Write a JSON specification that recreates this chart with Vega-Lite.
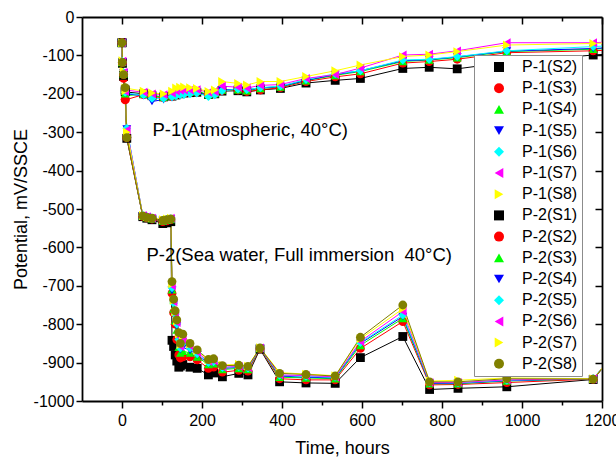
{
  "$schema": "https://vega.github.io/schema/vega-lite/v6.json",
  "width": 520,
  "height": 384,
  "autosize": "none",
  "padding": {"left": 82, "top": 17, "right": 14, "bottom": 57},
  "config": {
    "font": "Liberation Sans",
    "view": {"stroke": null},
    "axis": {
      "grid": false,
      "domainColor": "black",
      "domainWidth": 1.8,
      "tickColor": "black",
      "tickWidth": 1.5,
      "labelColor": "black",
      "labelFont": "Liberation Sans",
      "labelFontSize": 16,
      "titleColor": "black",
      "titleFont": "Liberation Sans",
      "titleFontSize": 18,
      "titleFontWeight": "normal"
    }
  },
  "datasets": {
    "curves": [
      {"series":"P-1(S2)","hours":0,"mV":-67},{"series":"P-1(S2)","hours":1,"mV":-120},{"series":"P-1(S2)","hours":4,"mV":-155},{"series":"P-1(S2)","hours":8,"mV":-195},{"series":"P-1(S2)","hours":54,"mV":-200},{"series":"P-1(S2)","hours":75,"mV":-205},{"series":"P-1(S2)","hours":104,"mV":-208},{"series":"P-1(S2)","hours":125,"mV":-206},{"series":"P-1(S2)","hours":135,"mV":-203},{"series":"P-1(S2)","hours":145,"mV":-200},{"series":"P-1(S2)","hours":155,"mV":-198},{"series":"P-1(S2)","hours":170,"mV":-197},{"series":"P-1(S2)","hours":187,"mV":-196},{"series":"P-1(S2)","hours":216,"mV":-202},{"series":"P-1(S2)","hours":232,"mV":-200},{"series":"P-1(S2)","hours":250,"mV":-193},{"series":"P-1(S2)","hours":290,"mV":-192},{"series":"P-1(S2)","hours":312,"mV":-195},{"series":"P-1(S2)","hours":346,"mV":-190},{"series":"P-1(S2)","hours":396,"mV":-186},{"series":"P-1(S2)","hours":460,"mV":-172},{"series":"P-1(S2)","hours":533,"mV":-165},{"series":"P-1(S2)","hours":596,"mV":-160},{"series":"P-1(S2)","hours":702,"mV":-134},{"series":"P-1(S2)","hours":768,"mV":-131},{"series":"P-1(S2)","hours":838,"mV":-135},{"series":"P-1(S2)","hours":962,"mV":-118},{"series":"P-1(S2)","hours":1178,"mV":-99},{"series":"P-1(S2)","hours":1240,"mV":-95},
      {"series":"P-1(S3)","hours":0,"mV":-67},{"series":"P-1(S3)","hours":1,"mV":-118},{"series":"P-1(S3)","hours":4,"mV":-160},{"series":"P-1(S3)","hours":8,"mV":-216},{"series":"P-1(S3)","hours":54,"mV":-202},{"series":"P-1(S3)","hours":75,"mV":-208},{"series":"P-1(S3)","hours":104,"mV":-210},{"series":"P-1(S3)","hours":125,"mV":-207},{"series":"P-1(S3)","hours":135,"mV":-202},{"series":"P-1(S3)","hours":145,"mV":-200},{"series":"P-1(S3)","hours":155,"mV":-198},{"series":"P-1(S3)","hours":170,"mV":-197},{"series":"P-1(S3)","hours":187,"mV":-195},{"series":"P-1(S3)","hours":216,"mV":-203},{"series":"P-1(S3)","hours":232,"mV":-200},{"series":"P-1(S3)","hours":250,"mV":-192},{"series":"P-1(S3)","hours":290,"mV":-190},{"series":"P-1(S3)","hours":312,"mV":-194},{"series":"P-1(S3)","hours":346,"mV":-190},{"series":"P-1(S3)","hours":396,"mV":-184},{"series":"P-1(S3)","hours":460,"mV":-168},{"series":"P-1(S3)","hours":533,"mV":-156},{"series":"P-1(S3)","hours":596,"mV":-148},{"series":"P-1(S3)","hours":702,"mV":-120},{"series":"P-1(S3)","hours":768,"mV":-116},{"series":"P-1(S3)","hours":838,"mV":-110},{"series":"P-1(S3)","hours":962,"mV":-93},{"series":"P-1(S3)","hours":1178,"mV":-88},{"series":"P-1(S3)","hours":1240,"mV":-85},
      {"series":"P-1(S4)","hours":0,"mV":-67},{"series":"P-1(S4)","hours":1,"mV":-117},{"series":"P-1(S4)","hours":4,"mV":-152},{"series":"P-1(S4)","hours":8,"mV":-205},{"series":"P-1(S4)","hours":54,"mV":-201},{"series":"P-1(S4)","hours":75,"mV":-206},{"series":"P-1(S4)","hours":104,"mV":-208},{"series":"P-1(S4)","hours":125,"mV":-205},{"series":"P-1(S4)","hours":135,"mV":-200},{"series":"P-1(S4)","hours":145,"mV":-198},{"series":"P-1(S4)","hours":155,"mV":-196},{"series":"P-1(S4)","hours":170,"mV":-195},{"series":"P-1(S4)","hours":187,"mV":-193},{"series":"P-1(S4)","hours":216,"mV":-202},{"series":"P-1(S4)","hours":232,"mV":-199},{"series":"P-1(S4)","hours":250,"mV":-190},{"series":"P-1(S4)","hours":290,"mV":-189},{"series":"P-1(S4)","hours":312,"mV":-192},{"series":"P-1(S4)","hours":346,"mV":-186},{"series":"P-1(S4)","hours":396,"mV":-182},{"series":"P-1(S4)","hours":460,"mV":-166},{"series":"P-1(S4)","hours":533,"mV":-152},{"series":"P-1(S4)","hours":596,"mV":-142},{"series":"P-1(S4)","hours":702,"mV":-116},{"series":"P-1(S4)","hours":768,"mV":-112},{"series":"P-1(S4)","hours":838,"mV":-106},{"series":"P-1(S4)","hours":962,"mV":-90},{"series":"P-1(S4)","hours":1178,"mV":-84},{"series":"P-1(S4)","hours":1240,"mV":-80},
      {"series":"P-1(S5)","hours":0,"mV":-67},{"series":"P-1(S5)","hours":1,"mV":-118},{"series":"P-1(S5)","hours":4,"mV":-150},{"series":"P-1(S5)","hours":8,"mV":-200},{"series":"P-1(S5)","hours":54,"mV":-205},{"series":"P-1(S5)","hours":75,"mV":-220},{"series":"P-1(S5)","hours":104,"mV":-215},{"series":"P-1(S5)","hours":125,"mV":-210},{"series":"P-1(S5)","hours":135,"mV":-203},{"series":"P-1(S5)","hours":145,"mV":-200},{"series":"P-1(S5)","hours":155,"mV":-198},{"series":"P-1(S5)","hours":170,"mV":-197},{"series":"P-1(S5)","hours":187,"mV":-196},{"series":"P-1(S5)","hours":216,"mV":-205},{"series":"P-1(S5)","hours":232,"mV":-201},{"series":"P-1(S5)","hours":250,"mV":-190},{"series":"P-1(S5)","hours":290,"mV":-188},{"series":"P-1(S5)","hours":312,"mV":-190},{"series":"P-1(S5)","hours":346,"mV":-185},{"series":"P-1(S5)","hours":396,"mV":-181},{"series":"P-1(S5)","hours":460,"mV":-165},{"series":"P-1(S5)","hours":533,"mV":-150},{"series":"P-1(S5)","hours":596,"mV":-140},{"series":"P-1(S5)","hours":702,"mV":-114},{"series":"P-1(S5)","hours":768,"mV":-111},{"series":"P-1(S5)","hours":838,"mV":-104},{"series":"P-1(S5)","hours":962,"mV":-89},{"series":"P-1(S5)","hours":1178,"mV":-82},{"series":"P-1(S5)","hours":1240,"mV":-79},
      {"series":"P-1(S6)","hours":0,"mV":-67},{"series":"P-1(S6)","hours":1,"mV":-116},{"series":"P-1(S6)","hours":4,"mV":-148},{"series":"P-1(S6)","hours":8,"mV":-198},{"series":"P-1(S6)","hours":54,"mV":-203},{"series":"P-1(S6)","hours":75,"mV":-212},{"series":"P-1(S6)","hours":104,"mV":-212},{"series":"P-1(S6)","hours":125,"mV":-208},{"series":"P-1(S6)","hours":135,"mV":-205},{"series":"P-1(S6)","hours":145,"mV":-203},{"series":"P-1(S6)","hours":155,"mV":-202},{"series":"P-1(S6)","hours":170,"mV":-200},{"series":"P-1(S6)","hours":187,"mV":-198},{"series":"P-1(S6)","hours":216,"mV":-207},{"series":"P-1(S6)","hours":232,"mV":-203},{"series":"P-1(S6)","hours":250,"mV":-192},{"series":"P-1(S6)","hours":290,"mV":-188},{"series":"P-1(S6)","hours":312,"mV":-189},{"series":"P-1(S6)","hours":346,"mV":-184},{"series":"P-1(S6)","hours":396,"mV":-180},{"series":"P-1(S6)","hours":460,"mV":-163},{"series":"P-1(S6)","hours":533,"mV":-148},{"series":"P-1(S6)","hours":596,"mV":-140},{"series":"P-1(S6)","hours":702,"mV":-112},{"series":"P-1(S6)","hours":768,"mV":-110},{"series":"P-1(S6)","hours":838,"mV":-103},{"series":"P-1(S6)","hours":962,"mV":-88},{"series":"P-1(S6)","hours":1178,"mV":-77},{"series":"P-1(S6)","hours":1240,"mV":-74},
      {"series":"P-1(S7)","hours":0,"mV":-67},{"series":"P-1(S7)","hours":1,"mV":-115},{"series":"P-1(S7)","hours":4,"mV":-145},{"series":"P-1(S7)","hours":8,"mV":-190},{"series":"P-1(S7)","hours":54,"mV":-196},{"series":"P-1(S7)","hours":75,"mV":-200},{"series":"P-1(S7)","hours":104,"mV":-202},{"series":"P-1(S7)","hours":125,"mV":-198},{"series":"P-1(S7)","hours":135,"mV":-193},{"series":"P-1(S7)","hours":145,"mV":-191},{"series":"P-1(S7)","hours":155,"mV":-190},{"series":"P-1(S7)","hours":170,"mV":-190},{"series":"P-1(S7)","hours":187,"mV":-189},{"series":"P-1(S7)","hours":216,"mV":-196},{"series":"P-1(S7)","hours":232,"mV":-194},{"series":"P-1(S7)","hours":250,"mV":-180},{"series":"P-1(S7)","hours":290,"mV":-183},{"series":"P-1(S7)","hours":312,"mV":-185},{"series":"P-1(S7)","hours":346,"mV":-178},{"series":"P-1(S7)","hours":396,"mV":-176},{"series":"P-1(S7)","hours":460,"mV":-160},{"series":"P-1(S7)","hours":533,"mV":-150},{"series":"P-1(S7)","hours":596,"mV":-133},{"series":"P-1(S7)","hours":702,"mV":-99},{"series":"P-1(S7)","hours":768,"mV":-97},{"series":"P-1(S7)","hours":838,"mV":-88},{"series":"P-1(S7)","hours":962,"mV":-67},{"series":"P-1(S7)","hours":1178,"mV":-67},{"series":"P-1(S7)","hours":1240,"mV":-64},
      {"series":"P-1(S8)","hours":0,"mV":-67},{"series":"P-1(S8)","hours":1,"mV":-114},{"series":"P-1(S8)","hours":4,"mV":-140},{"series":"P-1(S8)","hours":8,"mV":-185},{"series":"P-1(S8)","hours":54,"mV":-193},{"series":"P-1(S8)","hours":75,"mV":-198},{"series":"P-1(S8)","hours":104,"mV":-200},{"series":"P-1(S8)","hours":125,"mV":-193},{"series":"P-1(S8)","hours":135,"mV":-185},{"series":"P-1(S8)","hours":145,"mV":-183},{"series":"P-1(S8)","hours":155,"mV":-182},{"series":"P-1(S8)","hours":170,"mV":-184},{"series":"P-1(S8)","hours":187,"mV":-186},{"series":"P-1(S8)","hours":216,"mV":-194},{"series":"P-1(S8)","hours":232,"mV":-190},{"series":"P-1(S8)","hours":250,"mV":-168},{"series":"P-1(S8)","hours":290,"mV":-173},{"series":"P-1(S8)","hours":312,"mV":-177},{"series":"P-1(S8)","hours":346,"mV":-168},{"series":"P-1(S8)","hours":396,"mV":-168},{"series":"P-1(S8)","hours":460,"mV":-155},{"series":"P-1(S8)","hours":533,"mV":-140},{"series":"P-1(S8)","hours":596,"mV":-125},{"series":"P-1(S8)","hours":702,"mV":-103},{"series":"P-1(S8)","hours":768,"mV":-99},{"series":"P-1(S8)","hours":838,"mV":-90},{"series":"P-1(S8)","hours":962,"mV":-73},{"series":"P-1(S8)","hours":1178,"mV":-69},{"series":"P-1(S8)","hours":1240,"mV":-66},
      {"series":"P-2(S1)","hours":0,"mV":-67},{"series":"P-2(S1)","hours":1,"mV":-120},{"series":"P-2(S1)","hours":4,"mV":-152},{"series":"P-2(S1)","hours":8,"mV":-190},{"series":"P-2(S1)","hours":12,"mV":-316},{"series":"P-2(S1)","hours":52,"mV":-520},{"series":"P-2(S1)","hours":62,"mV":-524},{"series":"P-2(S1)","hours":75,"mV":-528},{"series":"P-2(S1)","hours":102,"mV":-538},{"series":"P-2(S1)","hours":112,"mV":-536},{"series":"P-2(S1)","hours":122,"mV":-533},{"series":"P-2(S1)","hours":125,"mV":-842},{"series":"P-2(S1)","hours":129,"mV":-858},{"series":"P-2(S1)","hours":133,"mV":-880},{"series":"P-2(S1)","hours":137,"mV":-896},{"series":"P-2(S1)","hours":142,"mV":-912},{"series":"P-2(S1)","hours":146,"mV":-909},{"series":"P-2(S1)","hours":152,"mV":-905},{"series":"P-2(S1)","hours":170,"mV":-912},{"series":"P-2(S1)","hours":188,"mV":-915},{"series":"P-2(S1)","hours":216,"mV":-932},{"series":"P-2(S1)","hours":229,"mV":-927},{"series":"P-2(S1)","hours":251,"mV":-937},{"series":"P-2(S1)","hours":292,"mV":-928},{"series":"P-2(S1)","hours":315,"mV":-932},{"series":"P-2(S1)","hours":345,"mV":-865},{"series":"P-2(S1)","hours":394,"mV":-950},{"series":"P-2(S1)","hours":460,"mV":-953},{"series":"P-2(S1)","hours":533,"mV":-954},{"series":"P-2(S1)","hours":596,"mV":-887},{"series":"P-2(S1)","hours":702,"mV":-832},{"series":"P-2(S1)","hours":769,"mV":-970},{"series":"P-2(S1)","hours":840,"mV":-967},{"series":"P-2(S1)","hours":962,"mV":-963},{"series":"P-2(S1)","hours":1178,"mV":-944},{"series":"P-2(S1)","hours":1240,"mV":-866},
      {"series":"P-2(S2)","hours":0,"mV":-67},{"series":"P-2(S2)","hours":1,"mV":-119},{"series":"P-2(S2)","hours":4,"mV":-150},{"series":"P-2(S2)","hours":8,"mV":-214},{"series":"P-2(S2)","hours":12,"mV":-314},{"series":"P-2(S2)","hours":52,"mV":-519},{"series":"P-2(S2)","hours":62,"mV":-523},{"series":"P-2(S2)","hours":75,"mV":-526},{"series":"P-2(S2)","hours":102,"mV":-533},{"series":"P-2(S2)","hours":112,"mV":-531},{"series":"P-2(S2)","hours":122,"mV":-528},{"series":"P-2(S2)","hours":125,"mV":-720},{"series":"P-2(S2)","hours":129,"mV":-770},{"series":"P-2(S2)","hours":133,"mV":-800},{"series":"P-2(S2)","hours":137,"mV":-840},{"series":"P-2(S2)","hours":142,"mV":-880},{"series":"P-2(S2)","hours":146,"mV":-888},{"series":"P-2(S2)","hours":152,"mV":-885},{"series":"P-2(S2)","hours":170,"mV":-885},{"series":"P-2(S2)","hours":188,"mV":-893},{"series":"P-2(S2)","hours":216,"mV":-915},{"series":"P-2(S2)","hours":229,"mV":-912},{"series":"P-2(S2)","hours":251,"mV":-925},{"series":"P-2(S2)","hours":292,"mV":-920},{"series":"P-2(S2)","hours":315,"mV":-922},{"series":"P-2(S2)","hours":345,"mV":-864},{"series":"P-2(S2)","hours":394,"mV":-942},{"series":"P-2(S2)","hours":460,"mV":-945},{"series":"P-2(S2)","hours":533,"mV":-945},{"series":"P-2(S2)","hours":596,"mV":-863},{"series":"P-2(S2)","hours":702,"mV":-793},{"series":"P-2(S2)","hours":769,"mV":-958},{"series":"P-2(S2)","hours":840,"mV":-957},{"series":"P-2(S2)","hours":962,"mV":-952},{"series":"P-2(S2)","hours":1178,"mV":-943},{"series":"P-2(S2)","hours":1240,"mV":-866},
      {"series":"P-2(S3)","hours":0,"mV":-67},{"series":"P-2(S3)","hours":1,"mV":-118},{"series":"P-2(S3)","hours":4,"mV":-148},{"series":"P-2(S3)","hours":8,"mV":-200},{"series":"P-2(S3)","hours":12,"mV":-305},{"series":"P-2(S3)","hours":52,"mV":-518},{"series":"P-2(S3)","hours":62,"mV":-522},{"series":"P-2(S3)","hours":75,"mV":-525},{"series":"P-2(S3)","hours":102,"mV":-531},{"series":"P-2(S3)","hours":112,"mV":-529},{"series":"P-2(S3)","hours":122,"mV":-527},{"series":"P-2(S3)","hours":125,"mV":-710},{"series":"P-2(S3)","hours":129,"mV":-760},{"series":"P-2(S3)","hours":133,"mV":-790},{"series":"P-2(S3)","hours":137,"mV":-815},{"series":"P-2(S3)","hours":142,"mV":-860},{"series":"P-2(S3)","hours":146,"mV":-875},{"series":"P-2(S3)","hours":152,"mV":-870},{"series":"P-2(S3)","hours":170,"mV":-875},{"series":"P-2(S3)","hours":188,"mV":-885},{"series":"P-2(S3)","hours":216,"mV":-905},{"series":"P-2(S3)","hours":229,"mV":-903},{"series":"P-2(S3)","hours":251,"mV":-918},{"series":"P-2(S3)","hours":292,"mV":-915},{"series":"P-2(S3)","hours":315,"mV":-918},{"series":"P-2(S3)","hours":345,"mV":-863},{"series":"P-2(S3)","hours":394,"mV":-938},{"series":"P-2(S3)","hours":460,"mV":-940},{"series":"P-2(S3)","hours":533,"mV":-942},{"series":"P-2(S3)","hours":596,"mV":-855},{"series":"P-2(S3)","hours":702,"mV":-785},{"series":"P-2(S3)","hours":769,"mV":-955},{"series":"P-2(S3)","hours":840,"mV":-955},{"series":"P-2(S3)","hours":962,"mV":-948},{"series":"P-2(S3)","hours":1178,"mV":-942},{"series":"P-2(S3)","hours":1240,"mV":-866},
      {"series":"P-2(S4)","hours":0,"mV":-67},{"series":"P-2(S4)","hours":1,"mV":-118},{"series":"P-2(S4)","hours":4,"mV":-146},{"series":"P-2(S4)","hours":8,"mV":-198},{"series":"P-2(S4)","hours":12,"mV":-292},{"series":"P-2(S4)","hours":52,"mV":-518},{"series":"P-2(S4)","hours":62,"mV":-521},{"series":"P-2(S4)","hours":75,"mV":-525},{"series":"P-2(S4)","hours":102,"mV":-530},{"series":"P-2(S4)","hours":112,"mV":-528},{"series":"P-2(S4)","hours":122,"mV":-526},{"series":"P-2(S4)","hours":125,"mV":-712},{"series":"P-2(S4)","hours":129,"mV":-748},{"series":"P-2(S4)","hours":133,"mV":-780},{"series":"P-2(S4)","hours":137,"mV":-805},{"series":"P-2(S4)","hours":142,"mV":-845},{"series":"P-2(S4)","hours":146,"mV":-866},{"series":"P-2(S4)","hours":152,"mV":-860},{"series":"P-2(S4)","hours":170,"mV":-868},{"series":"P-2(S4)","hours":188,"mV":-880},{"series":"P-2(S4)","hours":216,"mV":-902},{"series":"P-2(S4)","hours":229,"mV":-900},{"series":"P-2(S4)","hours":251,"mV":-915},{"series":"P-2(S4)","hours":292,"mV":-912},{"series":"P-2(S4)","hours":315,"mV":-915},{"series":"P-2(S4)","hours":345,"mV":-862},{"series":"P-2(S4)","hours":394,"mV":-935},{"series":"P-2(S4)","hours":460,"mV":-938},{"series":"P-2(S4)","hours":533,"mV":-940},{"series":"P-2(S4)","hours":596,"mV":-850},{"series":"P-2(S4)","hours":702,"mV":-780},{"series":"P-2(S4)","hours":769,"mV":-954},{"series":"P-2(S4)","hours":840,"mV":-954},{"series":"P-2(S4)","hours":962,"mV":-947},{"series":"P-2(S4)","hours":1178,"mV":-942},{"series":"P-2(S4)","hours":1240,"mV":-866},
      {"series":"P-2(S5)","hours":0,"mV":-67},{"series":"P-2(S5)","hours":1,"mV":-117},{"series":"P-2(S5)","hours":4,"mV":-145},{"series":"P-2(S5)","hours":8,"mV":-196},{"series":"P-2(S5)","hours":12,"mV":-290},{"series":"P-2(S5)","hours":52,"mV":-517},{"series":"P-2(S5)","hours":62,"mV":-521},{"series":"P-2(S5)","hours":75,"mV":-524},{"series":"P-2(S5)","hours":102,"mV":-529},{"series":"P-2(S5)","hours":112,"mV":-527},{"series":"P-2(S5)","hours":122,"mV":-525},{"series":"P-2(S5)","hours":125,"mV":-705},{"series":"P-2(S5)","hours":129,"mV":-745},{"series":"P-2(S5)","hours":133,"mV":-775},{"series":"P-2(S5)","hours":137,"mV":-800},{"series":"P-2(S5)","hours":142,"mV":-840},{"series":"P-2(S5)","hours":146,"mV":-862},{"series":"P-2(S5)","hours":152,"mV":-850},{"series":"P-2(S5)","hours":170,"mV":-862},{"series":"P-2(S5)","hours":188,"mV":-877},{"series":"P-2(S5)","hours":216,"mV":-900},{"series":"P-2(S5)","hours":229,"mV":-898},{"series":"P-2(S5)","hours":251,"mV":-913},{"series":"P-2(S5)","hours":292,"mV":-911},{"series":"P-2(S5)","hours":315,"mV":-914},{"series":"P-2(S5)","hours":345,"mV":-862},{"series":"P-2(S5)","hours":394,"mV":-933},{"series":"P-2(S5)","hours":460,"mV":-936},{"series":"P-2(S5)","hours":533,"mV":-938},{"series":"P-2(S5)","hours":596,"mV":-848},{"series":"P-2(S5)","hours":702,"mV":-776},{"series":"P-2(S5)","hours":769,"mV":-952},{"series":"P-2(S5)","hours":840,"mV":-953},{"series":"P-2(S5)","hours":962,"mV":-946},{"series":"P-2(S5)","hours":1178,"mV":-941},{"series":"P-2(S5)","hours":1240,"mV":-866},
      {"series":"P-2(S6)","hours":0,"mV":-67},{"series":"P-2(S6)","hours":1,"mV":-117},{"series":"P-2(S6)","hours":4,"mV":-144},{"series":"P-2(S6)","hours":8,"mV":-194},{"series":"P-2(S6)","hours":12,"mV":-294},{"series":"P-2(S6)","hours":52,"mV":-517},{"series":"P-2(S6)","hours":62,"mV":-520},{"series":"P-2(S6)","hours":75,"mV":-524},{"series":"P-2(S6)","hours":102,"mV":-529},{"series":"P-2(S6)","hours":112,"mV":-527},{"series":"P-2(S6)","hours":122,"mV":-524},{"series":"P-2(S6)","hours":125,"mV":-700},{"series":"P-2(S6)","hours":129,"mV":-742},{"series":"P-2(S6)","hours":133,"mV":-772},{"series":"P-2(S6)","hours":137,"mV":-796},{"series":"P-2(S6)","hours":142,"mV":-832},{"series":"P-2(S6)","hours":146,"mV":-858},{"series":"P-2(S6)","hours":152,"mV":-840},{"series":"P-2(S6)","hours":170,"mV":-857},{"series":"P-2(S6)","hours":188,"mV":-873},{"series":"P-2(S6)","hours":216,"mV":-897},{"series":"P-2(S6)","hours":229,"mV":-895},{"series":"P-2(S6)","hours":251,"mV":-912},{"series":"P-2(S6)","hours":292,"mV":-910},{"series":"P-2(S6)","hours":315,"mV":-913},{"series":"P-2(S6)","hours":345,"mV":-862},{"series":"P-2(S6)","hours":394,"mV":-932},{"series":"P-2(S6)","hours":460,"mV":-934},{"series":"P-2(S6)","hours":533,"mV":-937},{"series":"P-2(S6)","hours":596,"mV":-845},{"series":"P-2(S6)","hours":702,"mV":-767},{"series":"P-2(S6)","hours":769,"mV":-952},{"series":"P-2(S6)","hours":840,"mV":-952},{"series":"P-2(S6)","hours":962,"mV":-945},{"series":"P-2(S6)","hours":1178,"mV":-942},{"series":"P-2(S6)","hours":1240,"mV":-866},
      {"series":"P-2(S7)","hours":0,"mV":-67},{"series":"P-2(S7)","hours":1,"mV":-116},{"series":"P-2(S7)","hours":4,"mV":-143},{"series":"P-2(S7)","hours":8,"mV":-192},{"series":"P-2(S7)","hours":12,"mV":-300},{"series":"P-2(S7)","hours":52,"mV":-517},{"series":"P-2(S7)","hours":62,"mV":-520},{"series":"P-2(S7)","hours":75,"mV":-523},{"series":"P-2(S7)","hours":102,"mV":-528},{"series":"P-2(S7)","hours":112,"mV":-526},{"series":"P-2(S7)","hours":122,"mV":-524},{"series":"P-2(S7)","hours":125,"mV":-695},{"series":"P-2(S7)","hours":129,"mV":-738},{"series":"P-2(S7)","hours":133,"mV":-768},{"series":"P-2(S7)","hours":137,"mV":-792},{"series":"P-2(S7)","hours":142,"mV":-826},{"series":"P-2(S7)","hours":146,"mV":-853},{"series":"P-2(S7)","hours":152,"mV":-830},{"series":"P-2(S7)","hours":170,"mV":-852},{"series":"P-2(S7)","hours":188,"mV":-869},{"series":"P-2(S7)","hours":216,"mV":-893},{"series":"P-2(S7)","hours":229,"mV":-892},{"series":"P-2(S7)","hours":251,"mV":-906},{"series":"P-2(S7)","hours":292,"mV":-905},{"series":"P-2(S7)","hours":315,"mV":-909},{"series":"P-2(S7)","hours":345,"mV":-861},{"series":"P-2(S7)","hours":394,"mV":-926},{"series":"P-2(S7)","hours":460,"mV":-930},{"series":"P-2(S7)","hours":533,"mV":-934},{"series":"P-2(S7)","hours":596,"mV":-838},{"series":"P-2(S7)","hours":702,"mV":-760},{"series":"P-2(S7)","hours":769,"mV":-948},{"series":"P-2(S7)","hours":840,"mV":-946},{"series":"P-2(S7)","hours":962,"mV":-940},{"series":"P-2(S7)","hours":1178,"mV":-942},{"series":"P-2(S7)","hours":1240,"mV":-866},
      {"series":"P-2(S8)","hours":0,"mV":-67},{"series":"P-2(S8)","hours":1,"mV":-118},{"series":"P-2(S8)","hours":4,"mV":-150},{"series":"P-2(S8)","hours":8,"mV":-184},{"series":"P-2(S8)","hours":12,"mV":-314},{"series":"P-2(S8)","hours":52,"mV":-518},{"series":"P-2(S8)","hours":62,"mV":-522},{"series":"P-2(S8)","hours":75,"mV":-524},{"series":"P-2(S8)","hours":102,"mV":-530},{"series":"P-2(S8)","hours":112,"mV":-528},{"series":"P-2(S8)","hours":122,"mV":-526},{"series":"P-2(S8)","hours":125,"mV":-689},{"series":"P-2(S8)","hours":129,"mV":-735},{"series":"P-2(S8)","hours":133,"mV":-765},{"series":"P-2(S8)","hours":137,"mV":-789},{"series":"P-2(S8)","hours":142,"mV":-822},{"series":"P-2(S8)","hours":146,"mV":-850},{"series":"P-2(S8)","hours":152,"mV":-826},{"series":"P-2(S8)","hours":170,"mV":-850},{"series":"P-2(S8)","hours":188,"mV":-867},{"series":"P-2(S8)","hours":216,"mV":-892},{"series":"P-2(S8)","hours":229,"mV":-890},{"series":"P-2(S8)","hours":251,"mV":-908},{"series":"P-2(S8)","hours":292,"mV":-907},{"series":"P-2(S8)","hours":315,"mV":-910},{"series":"P-2(S8)","hours":345,"mV":-862},{"series":"P-2(S8)","hours":394,"mV":-928},{"series":"P-2(S8)","hours":460,"mV":-931},{"series":"P-2(S8)","hours":533,"mV":-935},{"series":"P-2(S8)","hours":596,"mV":-834},{"series":"P-2(S8)","hours":702,"mV":-750},{"series":"P-2(S8)","hours":769,"mV":-950},{"series":"P-2(S8)","hours":840,"mV":-950},{"series":"P-2(S8)","hours":962,"mV":-942},{"series":"P-2(S8)","hours":1178,"mV":-943},{"series":"P-2(S8)","hours":1240,"mV":-866}
    ],
    "notes": [
      {"hours": 76, "mV": -294, "note": "P-1(Atmospheric, 40°C)"},
      {"hours": 61, "mV": -620, "note": "P-2(Sea water, Full immersion\u00a0 40°C)"}
    ]
  },
  "layer": [
    {
      "data": {"name": "curves"},
      "mark": {"type": "line", "strokeWidth": 1, "clip": true},
      "encoding": {
        "x": {
          "field": "hours", "type": "quantitative",
          "scale": {"domain": [-100, 1200], "nice": false, "zero": false},
          "axis": {
            "orient": "bottom",
            "values": [0, 100, 200, 300, 400, 500, 600, 700, 800, 900, 1000, 1100, 1200],
            "tickSize": 7,
            "tickDash": {"condition": {"test": "datum.value % 200 !== 0", "value": [4, 20]}, "value": [20, 0]},
            "labelExpr": "datum.value % 200 === 0 ? toString(datum.value) : ''",
            "labelPadding": 4,
            "labelFlush": false,
            "labelOverlap": false,
            "title": "Time, hours",
            "titlePadding": 11
          }
        },
        "y": {
          "field": "mV", "type": "quantitative",
          "scale": {"domain": [-1000, 0], "nice": false, "zero": false},
          "axis": {
            "orient": "left",
            "values": [-1000, -900, -800, -700, -600, -500, -400, -300, -200, -100, 0],
            "tickSize": 6,
            "labelExpr": "toString(datum.value)",
            "labelPadding": 2,
            "labelFlush": false,
            "labelOverlap": false,
            "title": "Potential, mV/SSCE",
            "titlePadding": 3
          }
        },
        "color": {
          "field": "series", "type": "nominal",
          "scale": {
            "domain": ["P-1(S2)", "P-1(S3)", "P-1(S4)", "P-1(S5)", "P-1(S6)", "P-1(S7)", "P-1(S8)", "P-2(S1)", "P-2(S2)", "P-2(S3)", "P-2(S4)", "P-2(S5)", "P-2(S6)", "P-2(S7)", "P-2(S8)"],
            "range": ["#000000", "#ff0000", "#00ff00", "#0000ff", "#00ffff", "#ff00ff", "#ffff00", "#000000", "#ff0000", "#00ff00", "#0000ff", "#00ffff", "#ff00ff", "#ffff00", "#808000"]
          }
        },
        "order": {"field": "hours", "type": "quantitative"}
      }
    },
    {
      "data": {"name": "curves"},
      "mark": {"type": "point", "filled": true, "opacity": 1, "size": 78, "clip": true},
      "encoding": {
        "x": {
          "field": "hours", "type": "quantitative",
          "axis": {
            "orient": "top",
            "values": [0, 100, 200, 300, 400, 500, 600, 700, 800, 900, 1000, 1100, 1200],
            "tickSize": -7,
            "tickDash": {"condition": {"test": "datum.value % 200 !== 0", "value": [4, 20]}, "value": [20, 0]},
            "labels": false,
            "title": null
          }
        },
        "y": {
          "field": "mV", "type": "quantitative",
          "axis": {
            "orient": "right",
            "values": [-900, -800, -700, -600, -500, -400, -300, -200, -100],
            "tickSize": -7,
            "labels": false,
            "title": null
          }
        },
        "color": {
          "field": "series", "type": "nominal",
          "legend": {
            "orient": "none",
            "legendX": 392,
            "legendY": 38,
            "title": null,
            "fillColor": "white",
            "strokeColor": "#8c8c8c",
            "padding": 4,
            "labelFont": "Liberation Sans",
            "labelFontSize": 16,
            "labelColor": "black",
            "symbolSize": 100,
            "symbolStrokeWidth": 0,
            "symbolOffset": 13,
            "labelOffset": 15,
            "rowPadding": 5.2
          }
        },
        "shape": {
          "field": "series", "type": "nominal",
          "legend": null,
          "scale": {
            "domain": ["P-1(S2)", "P-1(S3)", "P-1(S4)", "P-1(S5)", "P-1(S6)", "P-1(S7)", "P-1(S8)", "P-2(S1)", "P-2(S2)", "P-2(S3)", "P-2(S4)", "P-2(S5)", "P-2(S6)", "P-2(S7)", "P-2(S8)"],
            "range": ["square", "circle", "triangle-up", "triangle-down", "diamond", "triangle-left", "triangle-right", "square", "circle", "triangle-up", "triangle-down", "diamond", "triangle-left", "triangle-right", "circle"]
          }
        }
      }
    },
    {
      "data": {"name": "notes"},
      "mark": {"type": "text", "align": "left", "baseline": "middle", "fontSize": 18.5, "font": "Liberation Sans", "color": "black"},
      "encoding": {
        "x": {"field": "hours", "type": "quantitative", "axis": null},
        "y": {"field": "mV", "type": "quantitative", "axis": null},
        "text": {"field": "note"}
      }
    }
  ],
  "resolve": {"axis": {"x": "independent", "y": "independent"}}
}
